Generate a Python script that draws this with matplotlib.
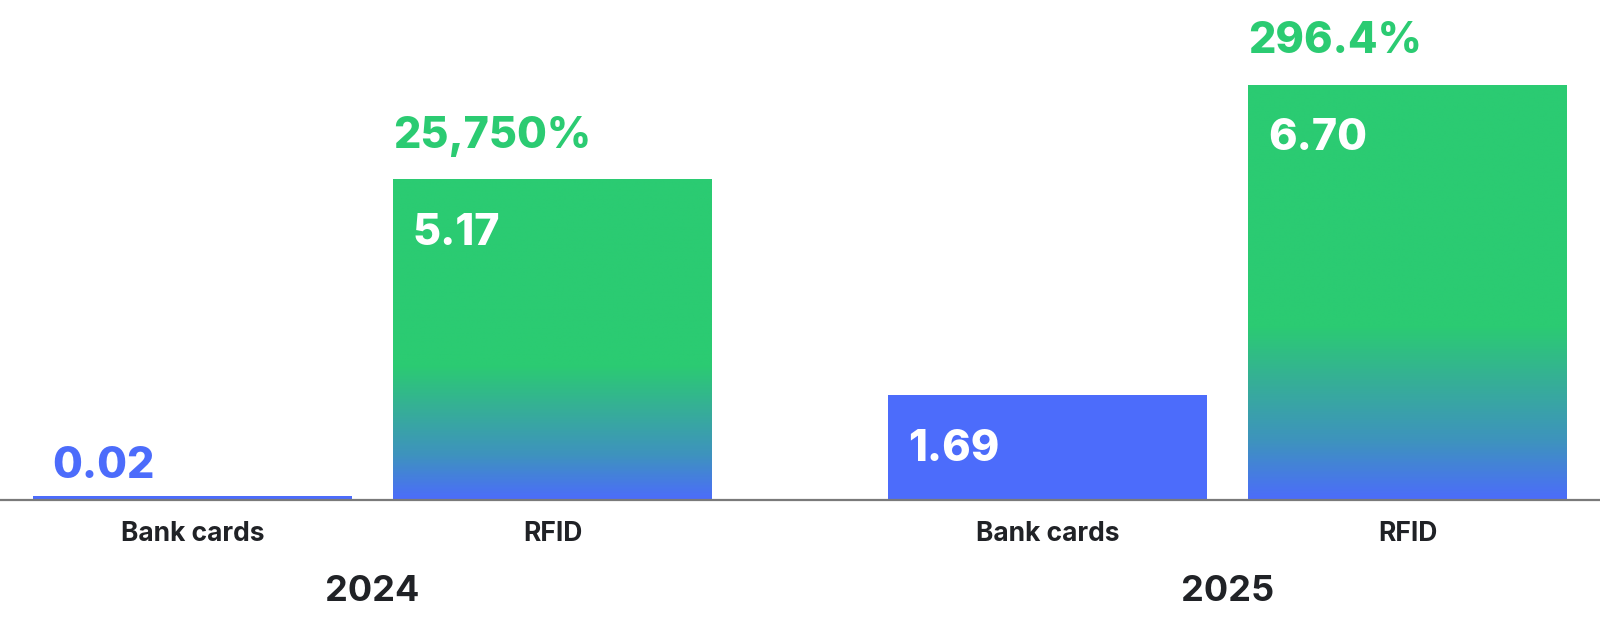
import numpy as np
import matplotlib
matplotlib.use("Agg")
import matplotlib.pyplot as plt
from matplotlib.colors import LinearSegmentedColormap

# data
years = ["2024", "2025"]
categories = ["Bank cards", "RFID", "Bank cards", "RFID"]
values = [0.02, 5.17, 1.69, 6.70]
growth = ["", "25,750%", "", "296.4%"]
value_labels = ["0.02", "5.17", "1.69", "6.70"]

BLUE = "#4C6CFB"
GREEN = "#2BCB72"
DARK = "#202226"

plt.rcParams["font.family"] = ["Inter", "DejaVu Sans"]

fig = plt.figure(figsize=(16, 6.2), dpi=100)
ax = fig.add_axes([0, 120 / 620, 1, 500 / 620])

x = np.array([0, 1, 2.376, 3.376])
width = 0.886
ax.set_xlim(-0.535, 3.91)
ax.set_ylim(0, 500 / 62)

grad = LinearSegmentedColormap.from_list("bg", [BLUE, "#3E93BE", "#36AE98", GREEN])

for i in range(len(values)):
    v = values[i]
    left = x[i] - width / 2
    if categories[i] == "RFID":
        # green bar, fading into blue near the bottom
        n = 400
        t = np.linspace(0, 1, n)
        frac = np.clip(t / 0.42, 0, 1)
        img = grad(frac)[::-1].reshape(n, 1, 4)
        im = ax.imshow(img, extent=(left, left + width, 0, v), aspect="auto",
                       interpolation="bilinear", zorder=1)
        r = ax.bar(x[i], v, width=width, color="none", linewidth=0, zorder=1)
        im.set_clip_path(r[0])
    else:
        ax.bar(x[i], max(v, 0.065), width=width, color=BLUE, linewidth=0, zorder=1)

    if v > 1:
        ax.annotate(value_labels[i], (left, v), xytext=(14, -39), textcoords="offset points",
                    ha="left", va="center", color="white", fontsize=31, fontweight="heavy", zorder=3)
    else:
        ax.annotate(value_labels[i], (left, v), xytext=(14, 23), textcoords="offset points",
                    ha="left", va="center", color=BLUE, fontsize=31, fontweight="heavy", zorder=3)
    if growth[i]:
        ax.annotate(growth[i], (left, v), xytext=(0, 31), textcoords="offset points",
                    ha="left", va="center", color=GREEN, fontsize=31, fontweight="heavy", zorder=3)

ax.set_xticks(x)
ax.set_xticklabels(categories, fontsize=19, fontweight="bold", color=DARK)
ax.tick_params(axis="x", length=0, pad=15)
ax.set_yticks([])
for s in ["top", "left", "right"]:
    ax.spines[s].set_visible(False)
ax.spines["bottom"].set_color("#7A7A7A")
ax.spines["bottom"].set_linewidth(1.6)
ax.spines["bottom"].set_zorder(4)

for g in range(len(years)):
    cx = (x[2 * g] + x[2 * g + 1]) / 2
    ax.annotate(years[g], (cx, 0), xytext=(0, -66), textcoords="offset points",
                ha="center", va="center", fontsize=26, fontweight="bold", color=DARK,
                annotation_clip=False)

fig.savefig("out.png", dpi=100)
